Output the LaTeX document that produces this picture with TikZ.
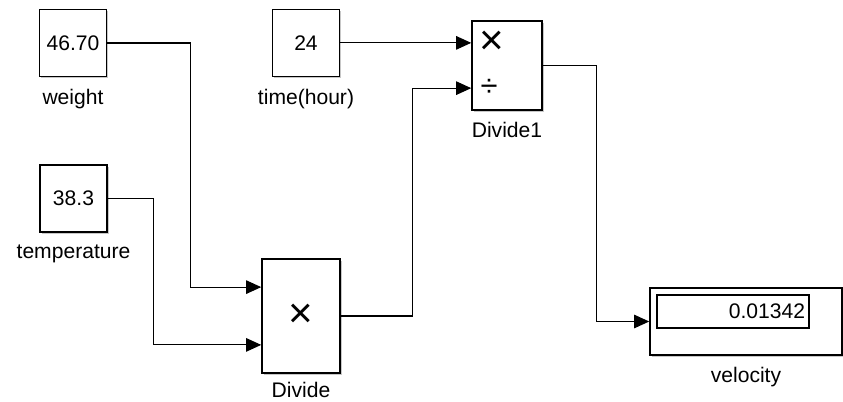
\documentclass[tikz,border=0pt]{standalone}
\usepackage{fontspec}
\setmainfont{Liberation Sans}
\usetikzlibrary{positioning,arrows.meta,calc,shadows}
\definecolor{blkshadow}{gray}{0.45}
\tikzset{
  sim/.style={font=\fontsize{15}{18}\selectfont},
  blk/.style={draw,line width=1.1pt,fill=white,inner sep=0pt,
              drop shadow={shadow xshift=1.3pt,shadow yshift=-1.3pt,opacity=0.4,fill=blkshadow}},
  const/.style={blk,minimum width=16.75mm,minimum height=16.75mm},
  lbl/.style={inner sep=1pt},
  sym/.style={inner sep=0pt,font=\fontsize{30}{30}\selectfont},
  sigdiv/.style={inner sep=0pt,font=\fontsize{22}{22}\selectfont},
  sig/.style={-{Triangle[length=3.8mm,width=3.4mm]},line width=0.8pt},
}

\begin{document}
\begin{tikzpicture}[sim,x=0.25mm,y=-0.25mm]
\useasboundingbox (0,0) rectangle (843,401);

% constant inputs
\node[const] (wt) at (73,43) {46.70};
\node[lbl,below=2.5mm of wt] {weight};

\node[const] (tp) at (73.5,198.5) {38.3};
\node[lbl,below=2.5mm of tp] {temperature};

\node[const] (tm) at (306,43) {24};
\node[lbl,below=2.5mm of tm] {time(hour)};

% product blocks
\node[blk,minimum width=19.5mm,minimum height=28.5mm] (dv) at (301,316) {};
\node[sym] at (dv.center) {×};
\node[lbl,below=1.8mm of dv] {Divide};

\node[blk,minimum width=17.5mm,minimum height=22.25mm] (dvo) at (507,65.5) {};
\node[lbl,below=2.5mm of dvo] {Divide1};

\coordinate (dvin1) at ($(dv.north west)!0.25!(dv.south west)$);
\coordinate (dvin2) at ($(dv.north west)!0.75!(dv.south west)$);
\coordinate (dvoin1) at ($(dvo.north west)!0.25!(dvo.south west)$);
\coordinate (dvoin2) at ($(dvo.north west)!0.75!(dvo.south west)$);
\node[sym,right=2mm of dvoin1] {×};
\node[sigdiv,right=2.3mm of dvoin2] {÷};

% display
\node[blk,minimum width=48mm,minimum height=16.75mm] (vel) at (746,321.5) {};
\node[draw,line width=0.8pt,minimum width=38mm,minimum height=8.25mm,
      text width=36mm,align=right,inner sep=1mm] (veld) at (733,311.5) {0.01342};
\node[lbl,below=2.5mm of vel] {velocity};

% signal lines
\draw[sig] (wt.east) -- ++(83,0) |- (dvin1);
\draw[sig] (tp.east) -- ++(46,0) |- (dvin2);
\draw[sig] (tm.east |- dvoin1) -- (dvoin1);
\draw[sig] (dv.east) -- ++(72,0) |- (dvoin2);
\draw[sig] (dvo.east) -- ++(54,0) |- (vel.west);

\end{tikzpicture}
\end{document}
